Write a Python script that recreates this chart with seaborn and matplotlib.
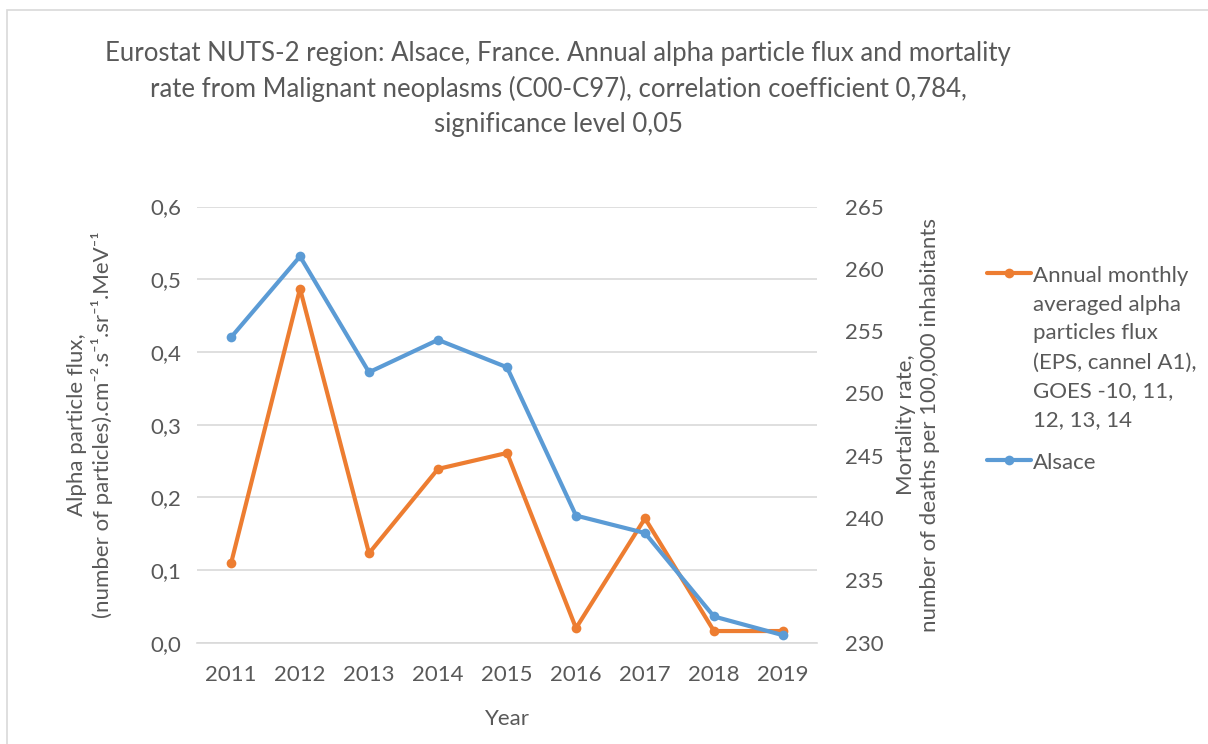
import matplotlib
matplotlib.use("Agg")
import matplotlib.pyplot as plt
import matplotlib.ticker as mticker
from matplotlib.patches import Rectangle
import seaborn as sns
import pandas as pd

years = ["2011", "2012", "2013", "2014", "2015", "2016", "2017", "2018", "2019"]
alpha_flux = [0.109, 0.487, 0.123, 0.239, 0.261, 0.020, 0.171, 0.016, 0.016]
mortality = [254.5, 261.0, 251.7, 254.3, 252.1, 240.2, 238.8, 232.1, 230.6]

flux_label = ("Annual monthly\naveraged alpha\nparticles flux\n(EPS, cannel A1),\n"
              "GOES -10, 11,\n12, 13, 14")
region_label = "Alsace"

sns.set_style("white")
plt.rcParams["font.family"] = ["Lato", "DejaVu Sans"]

grey = "#595959"
orange = "#ED7D31"
blue = "#5B9BD5"
fs = 16

df = pd.DataFrame({"year": years, "flux": alpha_flux, "mort": mortality})
x = list(range(len(years)))

fig = plt.figure(figsize=(12.08, 7.44), dpi=100)
ax = fig.add_axes([0.1627, 0.1362, 0.514, 0.5862])
ax2 = ax.twinx()

sns.lineplot(x=x, y=df["flux"], ax=ax, color=orange, lw=3, marker="o",
             markersize=7, markeredgewidth=0, label=flux_label, legend=False)
sns.lineplot(x=x, y=df["mort"], ax=ax2, color=blue, lw=3, marker="o",
             markersize=7, markeredgewidth=0, label=region_label, legend=False)

ax.set_xlim(-0.5, len(years) - 0.5)
ax.set_xticks(x)
ax.set_xticklabels(years)
ax.set_ylim(0, 0.6)
ax.set_yticks([0, 0.1, 0.2, 0.3, 0.4, 0.5, 0.6])
ax.yaxis.set_major_formatter(mticker.FuncFormatter(lambda v, p: f"{v:.1f}".replace(".", ",")))
ax2.set_ylim(230, 265)
ax2.set_yticks(range(230, 266, 5))

ax.grid(axis="y", color="#d9d9d9", lw=1.2)
ax.set_axisbelow(True)
for a in (ax, ax2):
    for s in a.spines.values():
        s.set_visible(False)
    a.tick_params(length=0, labelsize=fs, labelcolor=grey)
ax.spines["bottom"].set_visible(True)
ax.spines["bottom"].set_color("#d9d9d9")
ax.spines["bottom"].set_linewidth(1.2)
ax.tick_params(axis="x", pad=16)
ax.tick_params(axis="y", pad=11)
ax2.tick_params(axis="y", pad=20)

ax.set_xlabel("Year", fontsize=fs, color=grey, labelpad=17)
ax.set_ylabel("Alpha particle flux,\n(number of particles).cm⁻².s⁻¹.sr⁻¹.MeV⁻¹",
              fontsize=fs, color=grey, labelpad=27)
ax2.set_ylabel("Mortality rate,\nnumber of deaths per 100,000 inhabitants",
               fontsize=fs, color=grey, labelpad=9)

fig.text(0.462, 0.945,
         "Eurostat NUTS-2 region: Alsace, France. Annual alpha particle flux and mortality\n"
         "rate from Malignant neoplasms (C00-C97), correlation coefficient 0,784,\n"
         "significance level 0,05",
         ha="center", va="top", fontsize=18.5, color=grey, linespacing=1.48)

h1, l1 = ax.get_legend_handles_labels()
h2, l2 = ax2.get_legend_handles_labels()
leg = fig.legend(h1 + h2, l1 + l2, loc="upper left", bbox_to_anchor=(0.8095, 0.655),
                 frameon=False, fontsize=fs, labelcolor=grey, handlelength=2.0,
                 handletextpad=0.1, labelspacing=1.0, borderaxespad=0)
for col in leg._legend_handle_box.get_children():
    for item in col.get_children():
        item.align = "top"
for t in leg.get_texts():
    t.set_linespacing(1.56)

fig.patches.append(Rectangle((7 / 1208, -0.1), 1.2, 1.1 - 10 / 744, transform=fig.transFigure,
                             fill=False, edgecolor="#d9d9d9", lw=1.2))

fig.savefig("out.png", dpi=100)
